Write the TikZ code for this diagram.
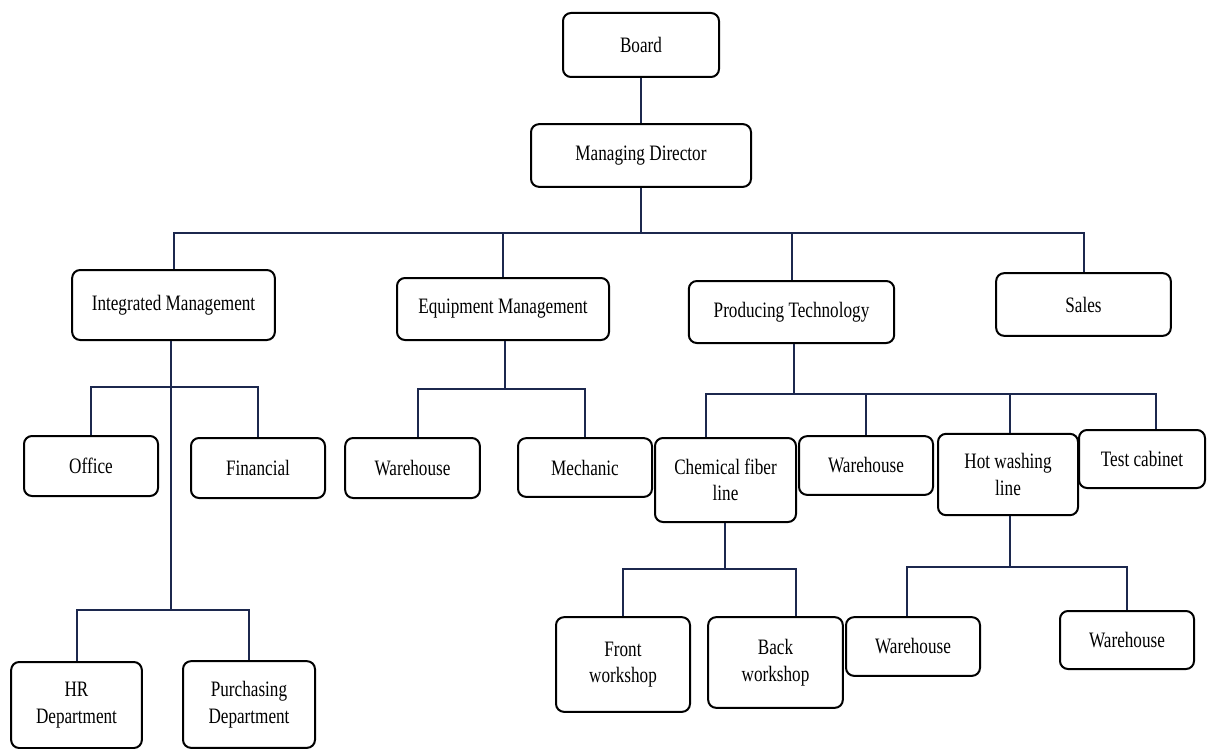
\documentclass[tikz,border=0pt]{standalone}
\usepackage{fontspec}
\setmainfont{Liberation Serif}[FakeStretch=0.78]
\usepackage{xcolor}
\definecolor{linknavy}{RGB}{28,40,78}
\tikzset{
  orgbox/.style={draw=black, line width=1.5pt, rounded corners=6pt, align=center, inner sep=2pt,
    font=\fontsize{16.5}{20}\selectfont},
  orglink/.style={draw=linknavy, line width=1.5pt}
}

\begin{document}
\begin{tikzpicture}[x=0.75pt,y=0.75pt,yscale=-1,xscale=1]
\useasboundingbox (0,0) rectangle (1210,749);

\node (board) at (641,45) [orgbox, minimum width=117pt, minimum height=48pt] {Board};
\node (md) at (641,155.5) [orgbox, minimum width=165pt, minimum height=47pt] {Managing Director};

\node (integ) at (173.5,305) [orgbox, minimum width=152pt, minimum height=52.5pt] {Integrated Management};
\node (equip) at (503,309) [orgbox, minimum width=159pt, minimum height=46.5pt] {Equipment Management};
\node (prod) at (791.5,312) [orgbox, minimum width=154pt, minimum height=46.5pt] {Producing Technology};
\node (sales) at (1083.5,304.5) [orgbox, minimum width=131pt, minimum height=47pt] {Sales};

\node (office) at (91,466) [orgbox, minimum width=100.5pt, minimum height=45pt] {Office};
\node (fin) at (258,468) [orgbox, minimum width=100.5pt, minimum height=45pt] {Financial};
\node (whequip) at (412.5,468) [orgbox, minimum width=101pt, minimum height=45pt] {Warehouse};
\node (mech) at (585,467.5) [orgbox, minimum width=100.5pt, minimum height=44pt] {Mechanic};
\node (chem) at (725.5,480) [orgbox, minimum width=105.75pt, minimum height=63pt] {Chemical fiber\\line};
\node (whprod) at (866,465.5) [orgbox, minimum width=100.5pt, minimum height=44pt] {Warehouse};
\node (hotwash) at (1008,474.5) [orgbox, minimum width=105pt, minimum height=61pt] {Hot washing\\line};
\node (testcab) at (1142,459) [orgbox, minimum width=94.5pt, minimum height=43.5pt] {Test cabinet};

\node (hr) at (76.5,705) [orgbox, minimum width=98pt, minimum height=64.5pt] {HR\\Department};
\node (purch) at (249,704.5) [orgbox, minimum width=99pt, minimum height=65pt] {Purchasing\\Department};
\node (front) at (623,664.5) [orgbox, minimum width=100.5pt, minimum height=71pt] {Front\\workshop};
\node (back) at (775.5,662.5) [orgbox, minimum width=101pt, minimum height=68pt] {Back\\workshop};
\node (whleft) at (913,646.5) [orgbox, minimum width=100.5pt, minimum height=44pt] {Warehouse};
\node (whright) at (1127,640) [orgbox, minimum width=100.5pt, minimum height=43.5pt] {Warehouse};

\coordinate (topbus) at (641,233);
\coordinate (imbus) at (171,387);
\coordinate (hrbus) at (171,610);
\coordinate (eqbus) at (505,389);
\coordinate (prbus) at (794,394);
\coordinate (chbus) at (725,569);
\coordinate (hwbus) at (1010,567);

\draw [orglink] (board) -- (md);
\draw [orglink] (md.south) -- (topbus);
\draw [orglink] (integ.north) |- (topbus) -| (sales.north);
\draw [orglink] (equip.north) -- (equip.north |- topbus);
\draw [orglink] (prod.north) -- (prod.north |- topbus);

\draw [orglink] (integ.south -| imbus) -- (imbus) -- (hrbus);
\draw [orglink] (office.north) |- (imbus) -| (fin.north);
\draw [orglink] (hr.north) |- (hrbus) -| (purch.north);

\draw [orglink] (equip.south -| eqbus) -- (eqbus);
\draw [orglink] ([xshift=4pt]whequip.north) |- (eqbus) -| (mech.north);

\draw [orglink] (prod.south -| prbus) -- (prbus);
\draw [orglink] ([xshift=-15pt]chem.north) |- (prbus) -| ([xshift=10.5pt]testcab.north);
\draw [orglink] (whprod.north) -- (whprod.north |- prbus);
\draw [orglink] (hotwash.north -| hwbus) -- (hwbus |- prbus);

\draw [orglink] (chem.south -| chbus) -- (chbus);
\draw [orglink] (front.north) |- (chbus) -| ([xshift=15pt]back.north);

\draw [orglink] (hotwash.south -| hwbus) -- (hwbus);
\draw [orglink] ([xshift=-4.5pt]whleft.north) |- (hwbus) -| (whright.north);

\end{tikzpicture}
\end{document}
